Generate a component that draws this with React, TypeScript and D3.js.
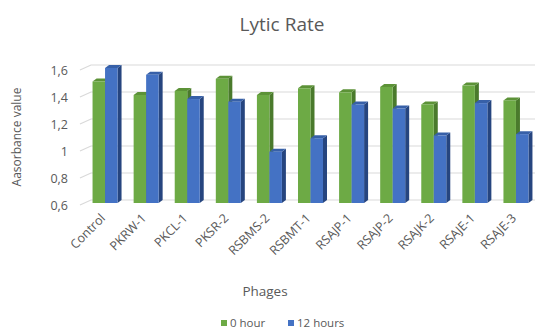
import React from "react";
import * as d3 from "d3";

const phages = [
  "Control", "PKRW-1", "PKCL-1", "PKSR-2", "RSBMS-2", "RSBMT-1",
  "RSAJP-1", "RSAJP-2", "RSAJK-2", "RSAJE-1", "RSAJE-3",
];
const hour0 = [1.5, 1.4, 1.43, 1.52, 1.4, 1.45, 1.42, 1.46, 1.33, 1.47, 1.36];
const hour12 = [1.6, 1.55, 1.37, 1.35, 0.98, 1.08, 1.33, 1.3, 1.1, 1.34, 1.11];
const seriesNames = ["0 hour", "12 hours"];
const yTicks = [0.6, 0.8, 1.0, 1.2, 1.4, 1.6];
const yTickLabels = ["0,6", "0,8", "1", "1,2", "1,4", "1,6"];

const W = 538;
const H = 336;
const FONT = "'Open Sans', 'Noto Sans', sans-serif";
const TEXT = "#595959";

const palette = [
  { front: "#6DAA45", side: "#4A7A2C", top: "#5C9237" },
  { front: "#4472C4", side: "#26457F", top: "#3760A8" },
];

// 3D offset of the back wall and of each column's depth
const WALL_DX = 11;
const WALL_DY = -5;
const BAR_DX = 4;
const BAR_DY = -3;

export default function App() {
  const yFront = d3.scaleLinear().domain([0.6, 1.6]).range([205, 70]);
  const yBar = d3.scaleLinear().domain([0.6, 1.6]).range([203, 68]);
  const x0 = d3.scaleBand<string>().domain(phages).range([84.5, 536.5]).padding(0);
  const groupW = 25;
  const x1 = d3
    .scaleBand<string>()
    .domain(seriesNames)
    .range([(x0.bandwidth() - groupW) / 2, (x0.bandwidth() + groupW) / 2])
    .padding(0);

  const wallLeft = 80;
  const wallRight = 535;
  const values = [hour0, hour12];

  return (
    <svg width={W} height={H} style={{ display: "block", position: "absolute", left: 0, top: 0 }}>
      <rect width={W} height={H} fill="#ffffff" />
      <text x={282} y={31} textAnchor="middle" fontFamily={FONT} fontSize={19} fill={TEXT}>
        Lytic Rate
      </text>

      {/* gridlines: floor diagonal then along the back wall */}
      {yTicks.map((t) => {
        const yf = yFront(t);
        return (
          <path
            key={t}
            d={`M${wallLeft},${yf} L${wallLeft + WALL_DX},${yf + WALL_DY} L${wallRight},${yf + WALL_DY}`}
            fill="none"
            stroke="#d9d9d9"
            strokeWidth={1.2}
          />
        );
      })}

      {yTicks.map((t, i) => (
        <text
          key={t}
          x={68}
          y={yFront(t) + 4.5}
          textAnchor="end"
          fontFamily={FONT}
          fontSize={12.5}
          fill={TEXT}
        >
          {yTickLabels[i]}
        </text>
      ))}

      <text
        transform={`translate(21,137) rotate(-90)`}
        textAnchor="middle"
        fontFamily={FONT}
        fontSize={12}
        fill={TEXT}
      >
        Aasorbance value
      </text>

      {/* columns */}
      {phages.map((p, i) => (
        <g key={p} transform={`translate(${x0(p)},0)`}>
          {seriesNames.map((s, si) => {
            const v = values[si][i];
            const bx = x1(s) as number;
            const bw = x1.bandwidth();
            const yt = yBar(v);
            const yb = yBar(0.6);
            const c = palette[si];
            return (
              <g key={s}>
                <path
                  d={`M${bx + bw},${yt} L${bx + bw + BAR_DX},${yt + BAR_DY} L${bx + bw + BAR_DX},${yb + BAR_DY} L${bx + bw},${yb} Z`}
                  fill={c.side}
                />
                <path
                  d={`M${bx},${yt} L${bx + BAR_DX},${yt + BAR_DY} L${bx + bw + BAR_DX},${yt + BAR_DY} L${bx + bw},${yt} Z`}
                  fill={c.top}
                />
                <rect x={bx} y={yt} width={bw} height={yb - yt} fill={c.front} />
              </g>
            );
          })}
        </g>
      ))}

      {phages.map((p) => {
        const cx = (x0(p) as number) + x0.bandwidth() / 2;
        return (
          <text
            key={p}
            transform={`translate(${cx + 1},${219}) rotate(-45)`}
            textAnchor="end"
            fontFamily={FONT}
            fontSize={12.5}
            fill={TEXT}
          >
            {p}
          </text>
        );
      })}

      <text x={265} y={296} textAnchor="middle" fontFamily={FONT} fontSize={13.5} fill={TEXT}>
        Phages
      </text>

      {/* legend */}
      <rect x={221} y={320} width={6} height={6} fill={palette[0].front} />
      <text x={230} y={327} fontFamily={FONT} fontSize={11.5} fill={TEXT}>
        {seriesNames[0]}
      </text>
      <rect x={288} y={320} width={6} height={6} fill={palette[1].front} />
      <text x={297} y={327} fontFamily={FONT} fontSize={11.5} fill={TEXT}>
        {seriesNames[1]}
      </text>
    </svg>
  );
}
